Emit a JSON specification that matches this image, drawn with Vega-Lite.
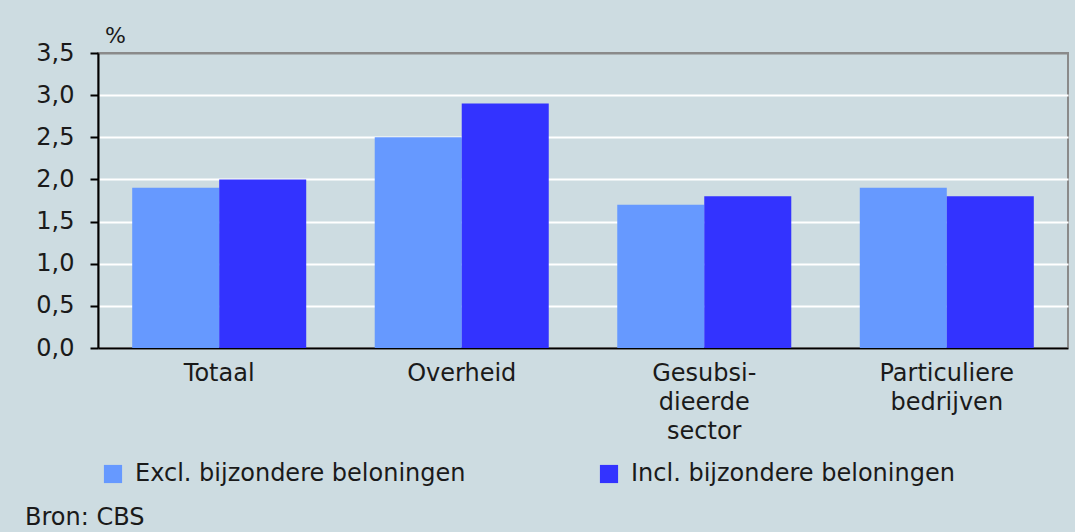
{
  "$schema": "https://vega.github.io/schema/vega-lite/v6.json",
  "width": 970,
  "height": 295,
  "autosize": {"type": "none"},
  "padding": {"left": 98, "top": 53, "right": 7, "bottom": 184},
  "background": "#CDDCE1",
  "config": {
    "font": "DejaVu Sans",
    "view": {"stroke": "#8a8a8a", "strokeWidth": 2, "fill": null}
  },
  "title": {
    "text": "Bron: CBS",
    "orient": "bottom",
    "anchor": "start",
    "frame": "group",
    "dx": -73,
    "fontSize": 24,
    "fontWeight": "normal",
    "color": "#1a1a1a",
    "offset": 20
  },
  "data": {
    "values": [
      {"sector": "Totaal", "reeks": "Excl. bijzondere beloningen", "waarde": 1.9},
      {"sector": "Totaal", "reeks": "Incl. bijzondere beloningen", "waarde": 2.0},
      {"sector": "Overheid", "reeks": "Excl. bijzondere beloningen", "waarde": 2.5},
      {"sector": "Overheid", "reeks": "Incl. bijzondere beloningen", "waarde": 2.9},
      {"sector": "Gesubsidieerde sector", "reeks": "Excl. bijzondere beloningen", "waarde": 1.7},
      {"sector": "Gesubsidieerde sector", "reeks": "Incl. bijzondere beloningen", "waarde": 1.8},
      {"sector": "Particuliere bedrijven", "reeks": "Excl. bijzondere beloningen", "waarde": 1.9},
      {"sector": "Particuliere bedrijven", "reeks": "Incl. bijzondere beloningen", "waarde": 1.8}
    ]
  },
  "mark": {"type": "bar"},
  "encoding": {
    "x": {
      "field": "sector",
      "type": "nominal",
      "sort": ["Totaal", "Overheid", "Gesubsidieerde sector", "Particuliere bedrijven"],
      "scale": {"paddingInner": 0.2825, "paddingOuter": 0.141},
      "axis": {
        "title": null,
        "labelAngle": 0,
        "ticks": false,
        "domainColor": "#000000",
        "domainWidth": 2,
        "labelFontSize": 24,
        "labelColor": "#1a1a1a",
        "labelPadding": 13,
        "labelLineHeight": 29,
        "labelBaseline": "top",
        "labelExpr": "datum.value == 'Gesubsidieerde sector' ? ['Gesubsi-', 'dieerde', 'sector'] : datum.value == 'Particuliere bedrijven' ? ['Particuliere', 'bedrijven'] : datum.value"
      }
    },
    "xOffset": {
      "field": "reeks",
      "type": "nominal",
      "sort": ["Excl. bijzondere beloningen", "Incl. bijzondere beloningen"]
    },
    "y": {
      "field": "waarde",
      "type": "quantitative",
      "scale": {"domain": [0, 3.5], "nice": false},
      "axis": {
        "values": [0, 0.5, 1, 1.5, 2, 2.5, 3, 3.5],
        "labelExpr": "replace(format(datum.value, '.1f'), '.', ',')",
        "title": "%",
        "titleAngle": 0,
        "titleX": 17,
        "titleY": -18,
        "titleAlign": "center",
        "titleBaseline": "middle",
        "titleFontSize": 22,
        "titleFontWeight": "normal",
        "titleColor": "#1a1a1a",
        "labelFontSize": 24,
        "labelColor": "#1a1a1a",
        "labelPadding": 16,
        "tickSize": 8,
        "tickColor": "#000000",
        "tickWidth": 2,
        "domainColor": "#000000",
        "domainWidth": 2,
        "gridColor": {"condition": {"test": "datum.value == 3.5", "value": "#8a8a8a"}, "value": "#ffffff"},
        "gridWidth": 2
      }
    },
    "color": {
      "field": "reeks",
      "type": "nominal",
      "scale": {
        "domain": ["Excl. bijzondere beloningen", "Incl. bijzondere beloningen"],
        "range": ["#6699FF", "#3333FF"]
      },
      "legend": {
        "title": null,
        "orient": "none",
        "legendX": 3,
        "legendY": 409,
        "direction": "horizontal",
        "symbolType": "square",
        "symbolSize": 330,
        "symbolStrokeWidth": 0,
        "labelFontSize": 24,
        "labelColor": "#1a1a1a",
        "labelOffset": 10,
        "labelLimit": 600,
        "columnPadding": 131
      }
    }
  }
}
